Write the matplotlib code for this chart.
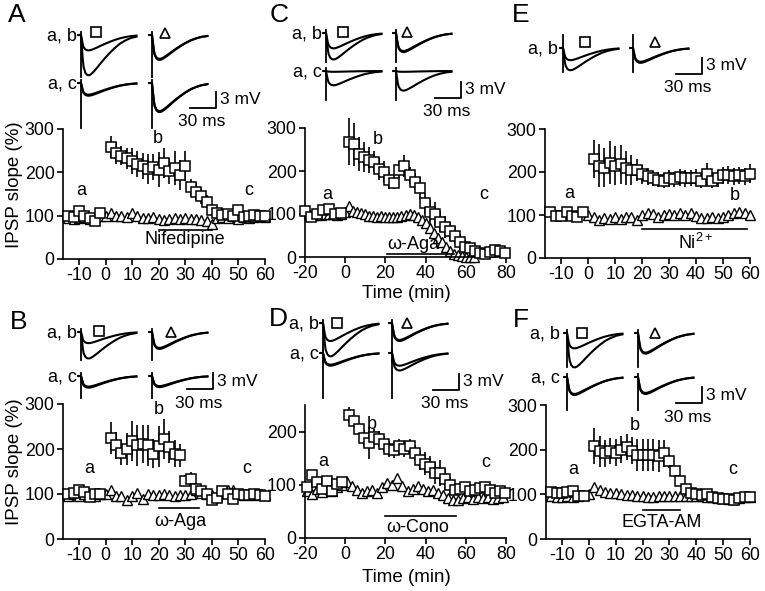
import numpy as np
import matplotlib
matplotlib.use("Agg")
import matplotlib.pyplot as plt

plt.rcParams['font.family'] = ['Liberation Sans', 'DejaVu Sans']
plt.rcParams['axes.unicode_minus'] = False
plt.rcParams['mathtext.fontset'] = 'custom'
plt.rcParams['mathtext.rm'] = 'Liberation Sans'

W, H = 765, 591

# ======================= DATA =======================
# ---- Panel A : Nifedipine ----
A_pre_t = [-14, -12, -10, -8, -6, -4, -2]
A_pre_v = [100, 96, 110, 100, 95, 88, 105]
A_sq_t = list(range(2, 41, 2))
A_sq_v = [258, 245, 238, 232, 226, 220, 214, 208, 212, 206, 222, 204, 210, 194, 214, 165, 155, 145, 132, 112]
A_sq_e = [25, 25, 22, 25, 30, 30, 30, 35, 30, 40, 35, 30, 40, 35, 35, 20, 20, 18, 15, 10]
A_post_t = list(range(42, 61, 2))
A_post_v = [106, 102, 104, 100, 112, 96, 100, 102, 100, 100]
A_post_e = [6, 5, 5, 5, 8, 6, 5, 5, 5, 5]
A_tri_t = list(range(-14, 61, 2))
A_tri_v = [95, 92, 95, 98, 93, 98, 100, 100, 105, 100, 100, 98, 105, 100, 95, 95, 98, 92, 90,
           93, 95, 93, 95, 92, 92, 90, 88, 80, 95, 98, 95, 100, 92, 98, 95, 98, 100, 98]

# ---- Panel B : omega-Aga ----
B_pre_t = [-14, -12, -10, -8, -6, -4, -2]
B_pre_v = [100, 102, 110, 104, 94, 100, 100]
B_sq_t = list(range(2, 29, 2))
B_sq_v = [225, 208, 192, 200, 218, 208, 212, 208, 190, 206, 222, 205, 190, 186]
B_sq_e = [35, 30, 28, 35, 45, 45, 42, 45, 32, 45, 45, 35, 30, 25]
B_post_t = list(range(30, 61, 2))
B_post_v = [130, 134, 112, 106, 100, 86, 92, 106, 100, 90, 100, 98, 98, 100, 98, 95]
B_post_e = [12, 15, 8, 6, 6, 8, 8, 8, 6, 6, 6, 6, 5, 5, 5, 5]
B_tri_t = list(range(-14, 61, 2))
B_tri_v = [95, 100, 95, 100, 98, 95, 100, 100, 108, 96, 95, 86, 96, 102, 88, 100, 98, 97, 100,
           97, 95, 98, 97, 100, 108, 103, 100, 98, 95, 102, 108, 110, 100, 97, 100, 98, 100, 98]

# ---- Panel C : omega-Aga ----
C_pre_t = [-20, -17, -14, -11, -8, -5, -2]
C_pre_v = [106, 94, 100, 110, 112, 100, 102]
C_sq_t = list(np.arange(2, 80, 2.5))
C_sq_v = [268, 262, 240, 232, 226, 222, 205, 198, 178, 172, 203, 212, 190, 175, 160, 125,
          105, 100, 82, 70, 60, 50, 35, 24, 20, 13, 10, 8, 12, 16, 14, 10]
C_sq_e = [55, 50, 40, 35, 30, 25, 25, 25, 20, 15, 20, 25, 20, 20, 25, 25,
          28, 28, 25, 25, 22, 20, 18, 15, 12, 10, 8, 6, 6, 6, 6, 6]
C_tri_t = list(range(-20, 65, 2))
C_tri_v = [110, 100, 98, 100, 98, 100, 100, 100, 98, 100, 105, 118, 108, 105, 102, 100, 96,
           95, 94, 95, 93, 92, 94, 92, 95, 98, 100, 98, 92, 85, 78, 68, 56, 45, 35, 24, 14,
           8, 4, 2, 1, 0, 0]

# ---- Panel D : omega-Cono ----
D_pre_t = [-19, -16.5, -14, -11.5, -9, -6.5, -4, -1.5]
D_pre_v = [95, 118, 105, 92, 108, 88, 102, 106]
D_sq_t = list(np.arange(2, 80, 2.5))
D_sq_v = [232, 220, 205, 188, 178, 190, 186, 176, 168, 165, 172, 168, 172, 160, 146, 140,
          134, 122, 122, 110, 100, 90, 92, 96, 88, 90, 94, 96, 90, 85, 88, 85]
D_sq_e = [15, 10, 10, 15, 30, 15, 15, 15, 15, 15, 15, 15, 15, 15, 18, 22,
          20, 20, 25, 20, 15, 10, 10, 10, 10, 10, 10, 10, 10, 10, 10, 10]
D_tri_t = list(np.arange(-19, 79, 2.5))
D_tri_v = [88, 82, 92, 86, 94, 88, 96, 100, 106, 97, 91, 84, 88, 91, 84, 95, 104, 100, 112, 98,
           88, 92, 97, 92, 88, 91, 84, 80, 75, 72, 72, 76, 78, 74, 77, 75, 78, 74, 76, 78]

# ---- Panel E : Ni2+ ----
E_pre_t = [-14, -12, -10, -8, -6, -4, -2]
E_pre_v = [106, 98, 97, 108, 98, 96, 108]
E_sq_t = list(range(2, 61, 2))
E_sq_v = [230, 215, 210, 222, 215, 218, 210, 205, 205, 195, 190, 185, 182, 180, 185, 183,
          188, 185, 186, 187, 180, 195, 178, 185, 192, 193, 190, 192, 190, 196]
E_sq_e = [45, 50, 45, 50, 45, 45, 40, 35, 25, 22, 20, 18, 18, 18, 20, 18,
          20, 20, 18, 20, 18, 25, 15, 20, 20, 20, 20, 20, 20, 22]
E_tri_t = list(range(0, 61, 2))
E_tri_v = [100, 96, 88, 94, 90, 95, 90, 95, 95, 88, 100, 105, 102, 96, 100, 103, 100, 104,
           100, 105, 98, 94, 92, 95, 92, 96, 100, 105, 108, 104, 100]

# ---- Panel F : EGTA-AM ----
F_pre_t = [-14, -12, -10, -8, -6, -4, -2]
F_pre_v = [106, 103, 103, 106, 108, 96, 97]
F_sq_t = list(range(2, 37, 2))
F_sq_v = [208, 196, 192, 197, 193, 200, 206, 198, 188, 188, 188, 188, 186, 192, 175, 152, 130, 112]
F_sq_e = [40, 35, 30, 30, 30, 30, 30, 30, 35, 35, 35, 35, 35, 30, 15, 10, 8, 6]
F_post_t = list(range(38, 61, 2))
F_post_v = [104, 100, 98, 100, 94, 92, 90, 90, 88, 92, 94, 95]
F_post_e = [5, 5, 4, 4, 4, 4, 4, 4, 4, 4, 4, 4]
F_tri_t = list(range(-14, 61, 2))
F_tri_v = [97, 95, 95, 96, 95, 97, 98, 100, 116, 110, 106, 104, 102, 100, 99, 98, 97, 96, 95,
           95, 96, 96, 97, 97, 96, 96, 97, 97, 96, 94, 93, 92, 92, 90, 90, 92, 93, 95]

# ---- IPSP traces (ms, normalised shape) and peak amplitudes (mV) ----
TRACE_T = [-3, 0, 1, 2, 3, 5, 7, 9, 11, 14, 18, 22, 27, 32, 38, 44, 50, 56, 63]
TRACE_SHAPE = [0, 0, -0.3, -0.6, -0.8, -0.94, -0.99, -1.0, -0.98, -0.92, -0.82, -0.71,
               -0.58, -0.46, -0.33, -0.22, -0.14, -0.08, -0.04]
A_ab_sq, A_ab_tri, A_ac_sq, A_ac_tri = [2.9, 7.6], [4.5, 4.7], [2.2, 2.4], [5.3, 5.5]
B_ab_sq, B_ab_tri, B_ac_sq, B_ac_tri = [2.1, 5.0], [3.0, 3.2], [2.0, 2.2], [1.9, 2.1]
C_ab_sq, C_ab_tri, C_ac_sq, C_ac_tri = [2.9, 5.0], [3.4, 3.6], [2.7, 0.15], [3.7, 0.15]
D_ab_sq, D_ab_tri, D_ac_sq, D_ac_tri = [3.4, 6.3], [3.2, 3.4], [2.2, 2.4], [3.3, 2.4]
E_ab_sq, E_ab_tri = [2.3, 4.2], [2.6, 2.8]
F_ab_sq, F_ab_tri, F_ac_sq, F_ac_tri = [2.9, 6.5], [3.7, 3.9], [3.2, 3.4], [3.0, 3.2]

# ======================= FIGURE =======================
fig = plt.figure(figsize=(W / 100, H / 100), dpi=100)


def px_box(l, t, r, b):
    return [l / W, 1 - b / H, (r - l) / W, (b - t) / H]


def ftext(x, y, s, **kw):
    kw.setdefault('ha', 'center')
    kw.setdefault('va', 'center')
    fig.text(x / W, 1 - y / H, s, **kw)


SQ = dict(marker='s', ms=7.2, mfc='white', mec='k', mew=1.1, ls='none', clip_on=False)
TRI = dict(marker='^', ms=6.8, mfc='white', mec='k', mew=1.0, ls='none', clip_on=False)


def main_panel(box, xlim, xticks, ylim, yticks, tri, squares, labels, drug):
    ax = fig.add_axes(px_box(*box))
    ax.plot(tri[0], tri[1], zorder=2, **TRI)
    for t, v, e in squares:
        if e is not None:
            ax.errorbar(t, v, yerr=e, fmt='none', ecolor='k', elinewidth=1.2,
                        capsize=0, zorder=3, clip_on=False)
        ax.plot(t, v, zorder=4, **SQ)
    ax.set_xlim(*xlim)
    ax.set_ylim(*ylim)
    ax.set_xticks(xticks)
    ax.set_yticks(yticks)
    for s in ('top', 'right'):
        ax.spines[s].set_visible(False)
    for s in ('left', 'bottom'):
        ax.spines[s].set_linewidth(1.2)
    ax.tick_params(direction='out', length=4.5, width=1.2, labelsize=12.8, pad=1.5)
    for (x, y, s) in labels:
        ax.text(x, y, s, fontsize=13, ha='center', va='center')
    (x1, x2, yl), (tx, ty, ts) = drug
    ax.plot([x1, x2], [yl, yl], 'k', lw=1.2)
    ax.text(tx, ty, ts, fontsize=13, ha='center', va='center')
    ax.patch.set_alpha(0)
    return ax


PX_MS = 0.88   # pixels per ms in the trace insets
PX_MV = 5.3    # pixels per mV in the trace insets


def traces(box, cols, rows, depths, up, cells, bar, syms, lab_x, lab_texts):
    l, t, r, b = box
    ax = fig.add_axes(px_box(l, t, r, b))
    ax.axis('off')
    ax.set_xlim(0, (r - l) / PX_MS)
    ax.set_ylim(0, (b - t) / PX_MV)

    def X(px):
        return (px - l) / PX_MS

    def Y(py):
        return (b - py) / PX_MV

    tt = np.array(TRACE_T, dtype=float)
    sh = np.array(TRACE_SHAPE, dtype=float)
    for ri, ry in enumerate(rows):
        for ci, cx in enumerate(cols):
            x0, y0 = X(cx), Y(ry)
            ax.plot([x0, x0], [y0 + up / PX_MV, y0 - depths[ri] / PX_MV], 'k', lw=1.3,
                    clip_on=False)
            for amp in cells[ri][ci]:
                ax.plot(x0 + tt, y0 + amp * sh, 'k', lw=1.5, clip_on=False)
        ftext(lab_x, ry + 1, lab_texts[ri], ha='right', fontsize=13)
    xc, yc = X(bar[0]), Y(bar[1])
    ax.plot([xc - 30, xc, xc], [yc, yc, yc + 3], 'k', lw=1.3, clip_on=False)
    ftext(bar[0] + 4, bar[1] - 8, '3 mV', ha='left', fontsize=12.5)
    ftext(bar[0] - 14, bar[1] + 14, '30 ms', fontsize=12.5)
    (sx1, sy1), (sx2, sy2) = syms
    ax.plot(X(sx1), Y(sy1), marker='s', ms=7, mfc='none', mec='k', mew=1.2, clip_on=False)
    ax.plot(X(sx2), Y(sy2), marker='^', ms=7, mfc='none', mec='k', mew=1.2, clip_on=False)


X60 = [-10, 0, 10, 20, 30, 40, 50, 60]
X80 = [-20, 0, 20, 40, 60, 80]
Y300 = [0, 100, 200, 300]

# ---- main plots ----
main_panel((63, 129, 265, 259), (-16, 60), X60, (0, 300), Y300,
           (A_tri_t, A_tri_v),
           [(A_pre_t, A_pre_v, None), (A_sq_t, A_sq_v, A_sq_e), (A_post_t, A_post_v, A_post_e)],
           [(-9, 159, 'a'), (19.5, 279, 'b'), (54, 159, 'c')],
           ((20, 40, 66), (30, 44, 'Nifedipine')))
main_panel((63, 404, 265, 539), (-16, 60), X60, (0, 300), Y300,
           (B_tri_t, B_tri_v),
           [(B_pre_t, B_pre_v, None), (B_sq_t, B_sq_v, B_sq_e), (B_post_t, B_post_v, B_post_e)],
           [(-6, 157, 'a'), (20, 287, 'b'), (53, 157, 'c')],
           ((20, 35, 69), (28, 38, '\u03c9-Aga')))
main_panel((305, 128, 506, 257), (-20, 80), X80, (0, 300), Y300,
           (C_tri_t, C_tri_v),
           [(C_pre_t, C_pre_v, None), (C_sq_t, C_sq_v, C_sq_e)],
           [(-9, 146, 'a'), (16, 274, 'b'), (69, 146, 'c')],
           ((21, 54, 7), (34, 28, '\u03c9-Aga')))
main_panel((305, 405, 506, 538), (-20, 80), X80, (0, 250), [0, 100, 200],
           (D_tri_t, D_tri_v),
           [(D_pre_t, D_pre_v, None), (D_sq_t, D_sq_v, D_sq_e)],
           [(-11, 144, 'a'), (13, 214, 'b'), (70, 141, 'c')],
           ((20, 55, 42), (36, 20, '\u03c9-Cono')))
main_panel((545, 129, 750, 258), (-16, 60), X60, (0, 300), Y300,
           (E_tri_t, E_tri_v),
           [(E_pre_t, E_pre_v, None), (E_sq_t, E_sq_v, E_sq_e)],
           [(-7, 150, 'a'), (54.5, 145, 'b')],
           ((20, 59, 67), (40, 35, 'Ni$^{\\mathrm{2+}}$')))
main_panel((546, 405, 750, 539), (-16, 60), X60, (0, 300), Y300,
           (F_tri_t, F_tri_v),
           [(F_pre_t, F_pre_v, None), (F_sq_t, F_sq_v, F_sq_e), (F_post_t, F_post_v, F_post_e)],
           [(-6, 155, 'a'), (17, 255, 'b'), (53.5, 155, 'c')],
           ((20, 34, 66), (27, 38, 'EGTA-AM')))

# ---- trace insets ----
traces((40, 5, 265, 135), (81, 152), (35, 83), (42, 45), 3,
       [[A_ab_sq, A_ab_tri], [A_ac_sq, A_ac_tri]], (216, 108),
       ((96, 32), (165, 33)), 77, ['a, b', 'a, c'])
traces((40, 305, 265, 405), (81, 152), (332, 376), (28, 22), 3,
       [[B_ab_sq, B_ab_tri], [B_ac_sq, B_ac_tri]], (213, 389),
       ((99, 331), (171, 332)), 77, ['a, b', 'a, c'])
traces((285, 5, 505, 125), (326, 396), (33, 71), (29, 29), 3,
       [[C_ab_sq, C_ab_tri], [C_ac_sq, C_ac_tri]], (461, 98),
       ((343, 32), (407, 32)), 322, ['a, b', 'a, c'])
traces((285, 300, 505, 405), (323, 392), (323, 353), (39, 45), 3,
       [[D_ab_sq, D_ab_tri], [D_ac_sq, D_ac_tri]], (459, 390),
       ((337, 323), (407, 323)), 319, ['a, b', 'a, c'])
traces((525, 20, 750, 100), (563, 633), (48,), (24,), 13,
       [[E_ab_sq, E_ab_tri]], (702, 74),
       ((585, 42), (655, 42)), 558, ['a, b'])
traces((525, 305, 750, 415), (567, 638), (333, 377), (34, 33), 3,
       [[F_ab_sq, F_ab_tri], [F_ac_sq, F_ac_tri]], (702, 403),
       ((582, 333), (655, 333)), 560, ['a, b', 'a, c'])

# ---- labels ----
ftext(15, 185, 'IPSP slope (%)', rotation=90, fontsize=13.5)
ftext(15, 462, 'IPSP slope (%)', rotation=90, fontsize=13.5)
ftext(406, 293, 'Time (min)', fontsize=13.5)
ftext(406, 577, 'Time (min)', fontsize=13.5)
for (x, y, s) in [(17, 15, 'A'), (279, 15, 'C'), (521, 15, 'E'),
                  (19, 322, 'B'), (278, 319, 'D'), (521, 320, 'F')]:
    ftext(x, y, s, fontsize=19)

fig.savefig('out.png', dpi=100)
